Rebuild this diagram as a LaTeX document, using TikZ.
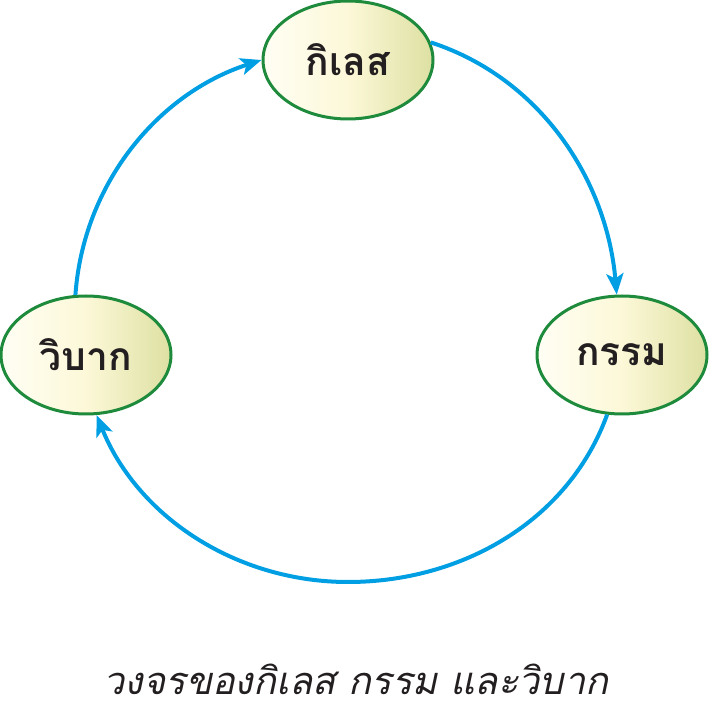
\documentclass[tikz,border=0pt]{standalone}
\usepackage{fontspec}
\newfontfamily\thaifont[Script=Thai]{Loma}
\usetikzlibrary{shapes.geometric,arrows.meta}
\definecolor{cyclecol}{HTML}{009FE3}
\definecolor{rimcol}{HTML}{1E8B3C}
\definecolor{palecol}{HTML}{FFFEF4}
\definecolor{midcol}{HTML}{FCF8D8}
\definecolor{olivecol}{HTML}{DDE0A2}
\definecolor{inkcol}{HTML}{231F20}
\tikzset{
  stage/.style={ellipse,draw=rimcol,line width=3pt,minimum width=170pt,minimum height=118pt,inner sep=0pt,
    left color=palecol,right color=olivecol,middle color=midcol,text=inkcol,
    font=\thaifont\bfseries\fontsize{39}{45}\selectfont},
  flow/.style={draw=cyclecol,line width=4pt,looseness=0.94,-{Stealth[length=21pt,width=17pt,inset=5pt]}}
}
\begin{document}
\begin{tikzpicture}[x=1pt,y=1pt]
\useasboundingbox (0,0) rectangle (711,724);
% the three stages
\node[stage] (kilet) at (348,664) {กิเลส};
\node[stage] (kam) at (622,369) {กรรม};
\node[stage] (vipak) at (86,369) {วิบาก};
\coordinate (low) at (348,142);
% the cycle
\draw[flow] (kilet.12) to[out=-18,in=95] (kam.95);
\draw[flow] (kam.-104) to[out=-110,in=0] (low) to[out=180,in=-68] (vipak.-80);
\draw[flow] (vipak.100) to[out=86,in=-162] (kilet.west);
\node[anchor=base,text=inkcol,font=\thaifont\itshape\fontsize{38}{44}\selectfont] (caption) at (356,29) {วงจรของกิเลส กรรม และวิบาก};
\end{tikzpicture}
\end{document}
